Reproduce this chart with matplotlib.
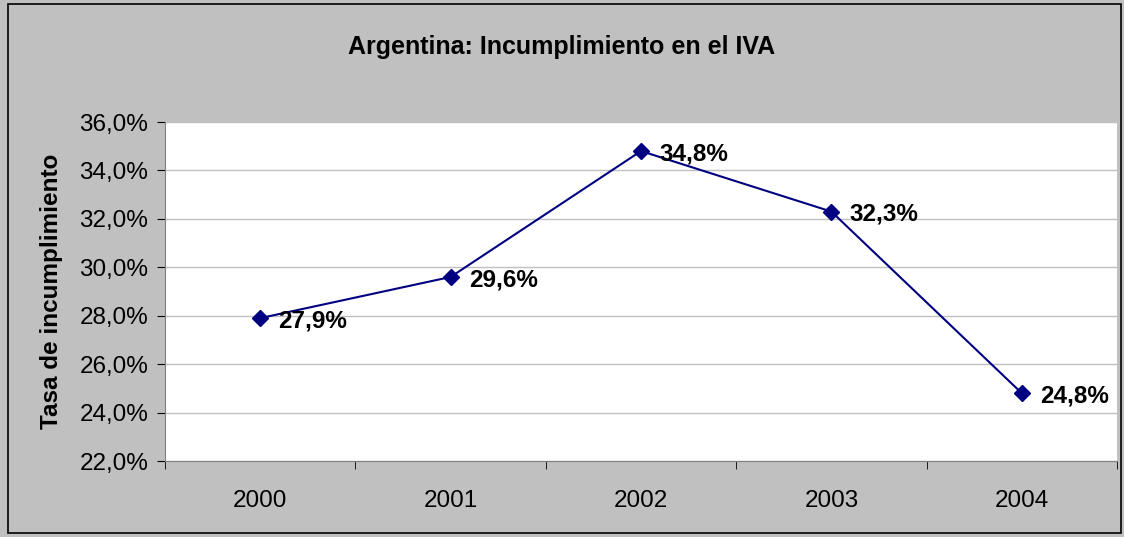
import matplotlib
matplotlib.use("Agg")
import matplotlib.pyplot as plt
from matplotlib.patches import Rectangle
from matplotlib.ticker import FuncFormatter, FixedLocator

plt.rcParams['font.family'] = ['Liberation Sans', 'DejaVu Sans']

years = ['2000', '2001', '2002', '2003', '2004']
rates = [27.9, 29.6, 34.8, 32.3, 24.8]
title = 'Argentina: Incumplimiento en el IVA'
ylabel = 'Tasa de incumplimiento'

fig = plt.figure(figsize=(11.24, 5.37), dpi=100)
fig.patch.set_facecolor('#C0C0C0')
fig.patches.append(Rectangle((8 / 1124, 4 / 537), 1113 / 1124, 529 / 537,
                             transform=fig.transFigure, fill=False,
                             edgecolor='black', linewidth=1.2))

ax = fig.add_axes([165 / 1124, 1 - 461 / 537, 952 / 1124, 339 / 537])
ax.set_facecolor('white')

x = list(range(len(years)))
ax.plot(x, rates, color='#000080', linewidth=1.5, marker='D', markersize=8,
        markerfacecolor='#000080', markeredgecolor='#000080', zorder=3)
for xi, v in zip(x, rates):
    ax.annotate(f'{v:.1f}%'.replace('.', ','), (xi, v), xytext=(13, -2),
                textcoords='offset points', ha='left', va='center',
                fontsize=17.5, fontweight='bold', color='black')

ax.set_xlim(-0.5, len(years) - 0.5)
ax.set_ylim(22, 36)
ax.set_yticks([22, 24, 26, 28, 30, 32, 34, 36])
ax.yaxis.set_major_formatter(FuncFormatter(lambda v, p: f'{v:.1f}%'.replace('.', ',')))
ax.set_xticks(x)
ax.set_xticklabels(years)
ax.xaxis.set_minor_locator(FixedLocator([i - 0.5 for i in range(len(years) + 1)]))
ax.tick_params(axis='x', which='major', length=0, pad=21, labelsize=17.5)
ax.tick_params(axis='x', which='minor', length=6, direction='out', color='black')
ax.tick_params(axis='y', length=6, direction='out', labelsize=17.5, pad=6, color='black')

ax.grid(axis='y', color='#C0C0C0', linewidth=1)
ax.set_axisbelow(True)
for s in ['top', 'right']:
    ax.spines[s].set_visible(False)
ax.spines['left'].set_color('#808080')
ax.spines['bottom'].set_color('#808080')

ax.set_ylabel(ylabel, fontsize=17.5, fontweight='bold', labelpad=12)
fig.text(0.5, 1 - 47 / 537, title, ha='center', va='center',
         fontsize=18, fontweight='bold')

fig.savefig('out.png', dpi=100, facecolor=fig.get_facecolor())
